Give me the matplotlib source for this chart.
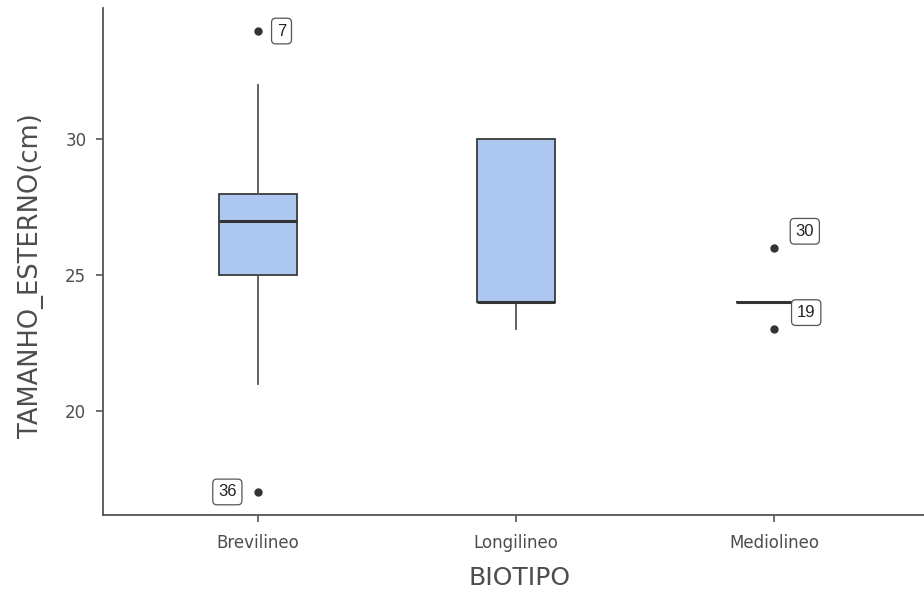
import matplotlib
matplotlib.use("Agg")
import matplotlib.pyplot as plt

plt.rcParams["font.family"] = ["DejaVu Sans"]

categories = ["Brevilineo", "Longilineo", "Mediolineo"]
q1 = [25, 24, 24]
medians = [27, 24, 24]
q3 = [28, 30, 24]
whislo = [21, 23, 24]
whishi = [32, 30, 24]
outliers = [[34, 17], [], [26, 23]]
# outlier labels: (category index, value, label)
outlier_labels = [(0, 34, "7"), (0, 17, "36"), (2, 26, "30"), (2, 23, "19")]
label_offsets = {"7": (17, 0), "36": (-22, 0), "30": (22, 12), "19": (23, 12)}

stats = []
for i, name in enumerate(categories):
    stats.append({
        "label": name, "q1": q1[i], "med": medians[i], "q3": q3[i],
        "whislo": whislo[i], "whishi": whishi[i], "fliers": outliers[i],
    })

fig = plt.figure(figsize=(9.24, 6.03), dpi=100)
ax = fig.add_axes([103 / 924, 88 / 603, 1 - 103 / 924, (515 - 8) / 603])

ax.bxp(
    stats, positions=range(3), widths=0.3, patch_artist=True, showcaps=False,
    boxprops=dict(facecolor="#adc8f0", edgecolor="#3a3a3a", linewidth=1.3),
    medianprops=dict(color="#333333", linewidth=2.2),
    whiskerprops=dict(color="#555555", linewidth=1.3),
    flierprops=dict(marker="o", markersize=5, markerfacecolor="#333333",
                    markeredgecolor="#333333"),
)

for idx, val, lab in outlier_labels:
    ax.annotate(lab, (idx, val), xytext=label_offsets[lab], textcoords="offset points",
                ha="center", va="center", fontsize=12, color="#222222",
                family=["Liberation Sans", "DejaVu Sans"],
                bbox=dict(boxstyle="round,pad=0.32,rounding_size=0.25",
                          fc="white", ec="#555555", lw=0.9))

ax.set_xlim(-0.6, 2.58)
ax.set_ylim(16.15, 34.85)
ax.set_yticks([20, 25, 30])
ax.set_xticks(range(3))
ax.set_xticklabels(categories)
for s in ["top", "right"]:
    ax.spines[s].set_visible(False)
for s in ["left", "bottom"]:
    ax.spines[s].set_color("#555555")
    ax.spines[s].set_linewidth(1.3)
ax.tick_params(colors="#555555", labelcolor="#4d4d4d", labelsize=12, length=5, width=1.2)
ax.tick_params(axis="x", pad=9)
ax.tick_params(axis="y", pad=7)
ax.set_xlabel("BIOTIPO", fontsize=18, color="#4d4d4d")
ax.set_ylabel("TAMANHO_ESTERNO(cm)", fontsize=18.5, color="#4d4d4d")
ax.xaxis.set_label_coords(0.507, -0.1)
ax.yaxis.set_label_coords(-0.072, 0.473)

fig.savefig("out.png", dpi=100)
